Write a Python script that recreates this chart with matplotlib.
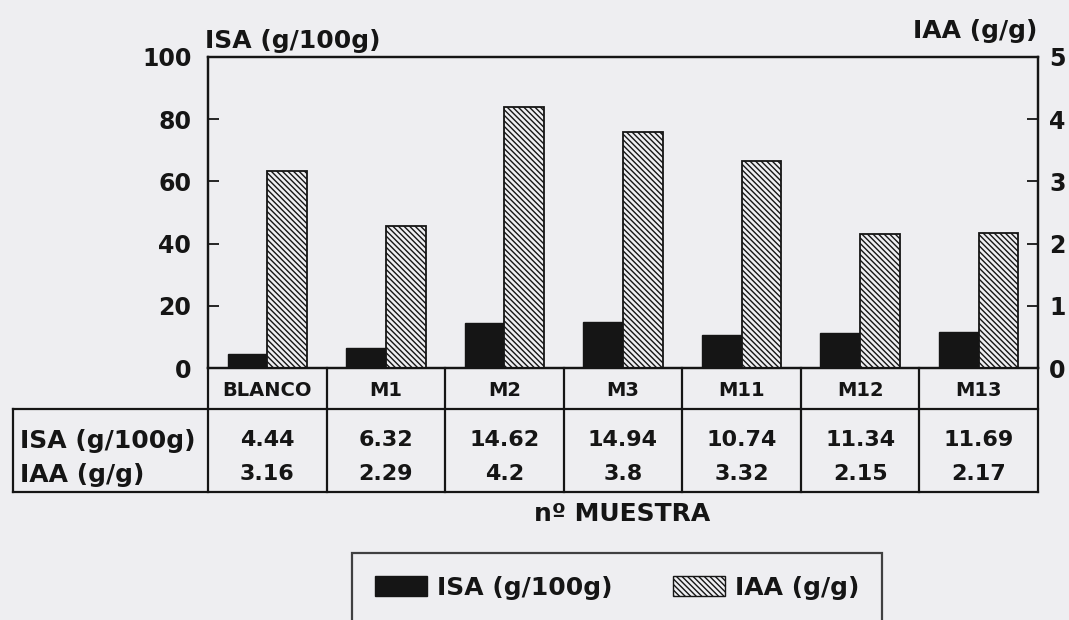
import matplotlib
matplotlib.use("Agg")
import matplotlib.pyplot as plt
from matplotlib.patches import Patch
from matplotlib.transforms import blended_transform_factory
from matplotlib.lines import Line2D

categories = ["BLANCO", "M1", "M2", "M3", "M11", "M12", "M13"]
isa = [4.44, 6.32, 14.62, 14.94, 10.74, 11.34, 11.69]
iaa = [3.16, 2.29, 4.2, 3.8, 3.32, 2.15, 2.17]
isa_label = "ISA (g/100g)"
iaa_label = "IAA (g/g)"
xlabel = "nº MUESTRA"

BG = "#eeeef1"
INK = "#151515"
plt.rcParams['font.family'] = ['DejaVu Sans']
plt.rcParams['font.weight'] = 'bold'
plt.rcParams['hatch.linewidth'] = 1.0
plt.rcParams['hatch.color'] = INK

W, H = 1069, 620
fig = plt.figure(figsize=(W / 100, H / 100), dpi=100, facecolor=BG)

def fx(px):
    return px / W

def fy(py):
    return 1 - py / H

left, right, top, bottom = 208, 1038, 57, 368
ax = fig.add_axes([fx(left), fy(bottom), fx(right - left), fy(top) - fy(bottom)])
ax.set_facecolor(BG)
ax2 = ax.twinx()

HATCH = "\\" * 6
x = list(range(len(categories)))
bw = 0.335
ax.bar([i - bw / 2 for i in x], isa, width=bw, color=INK, edgecolor=INK, linewidth=1)
ax2.bar([i + bw / 2 for i in x], iaa, width=bw, facecolor=BG, edgecolor=INK,
        hatch=HATCH, linewidth=1.3)

ax.set_xlim(-0.5, len(categories) - 0.5)
ax.set_ylim(0, 100)
ax2.set_ylim(0, 5)
ax.set_xticks([])
ax.set_yticks([0, 20, 40, 60, 80, 100])
ax2.set_yticks([0, 1, 2, 3, 4, 5])
ax.tick_params(axis='y', direction='in', length=8, width=1.3, pad=12, labelsize=17, colors=INK)
ax2.tick_params(axis='y', direction='in', length=8, width=1.3, pad=8, labelsize=17, colors=INK)
for lab in ax.get_yticklabels() + ax2.get_yticklabels():
    lab.set_fontweight('bold')
for a in (ax, ax2):
    for s in a.spines.values():
        s.set_linewidth(1.6)
        s.set_color(INK)

fig.text(fx(205), fy(41), isa_label, fontsize=18, fontweight='bold', ha='left', va='center', color=INK)
fig.text(fx(1037), fy(31), iaa_label, fontsize=18, fontweight='bold', ha='right', va='center', color=INK)

# table
tr = blended_transform_factory(ax.transData, fig.transFigure)
lw = 1.6
def hline(y, x0, x1):
    fig.add_artist(Line2D([fx(x0), fx(x1)], [fy(y), fy(y)], color=INK, lw=lw, transform=fig.transFigure))
def vline(xp, y0, y1):
    fig.add_artist(Line2D([fx(xp), fx(xp)], [fy(y0), fy(y1)], color=INK, lw=lw, transform=fig.transFigure))

row_top, row_mid, row_bot = bottom, 409, 492
hline(row_mid, 13, right)
hline(row_bot, 13, right)
vline(13, row_mid, row_bot)
vline(left, row_top, row_bot)
vline(right, row_top, row_bot)
for i in range(1, len(categories)):
    xpix = ax.transData.transform((i - 0.5, 0))[0] * 100 / fig.dpi
    vline(xpix, row_top, row_bot)

for i, c in enumerate(categories):
    fig.text(i, fy(390), c, transform=tr, ha='center', va='center', fontsize=14, fontweight='bold', color=INK)
    fig.text(i, fy(440), f"{isa[i]:g}", transform=tr, ha='center', va='center', fontsize=16, color=INK)
    fig.text(i, fy(474), f"{iaa[i]:g}", transform=tr, ha='center', va='center', fontsize=16, color=INK)

fig.text(fx(20), fy(441), isa_label, ha='left', va='center', fontsize=18, color=INK)
fig.text(fx(20), fy(475), iaa_label, ha='left', va='center', fontsize=18, color=INK)
fig.text(fx(622), fy(514), xlabel, ha='center', va='center', fontsize=18, fontweight='bold', color=INK)

handles = [Patch(facecolor=INK, edgecolor=INK, label=isa_label),
           Patch(facecolor=BG, edgecolor=INK, hatch=HATCH, label=iaa_label)]
leg = fig.legend(handles=handles, loc='upper left', bbox_to_anchor=(fx(352), fy(553)), ncol=2,
                 frameon=True, fancybox=False, edgecolor=INK, facecolor=BG,
                 prop={'size': 18, 'weight': 'bold'}, handlelength=2.1, handleheight=0.9,
                 handletextpad=0.4, columnspacing=2.4,
                 borderpad=0.9, borderaxespad=0)
leg.get_frame().set_linewidth(1.6)
for t in leg.get_texts():
    t.set_color(INK)

fig.savefig("out.png", dpi=100, facecolor=BG)
